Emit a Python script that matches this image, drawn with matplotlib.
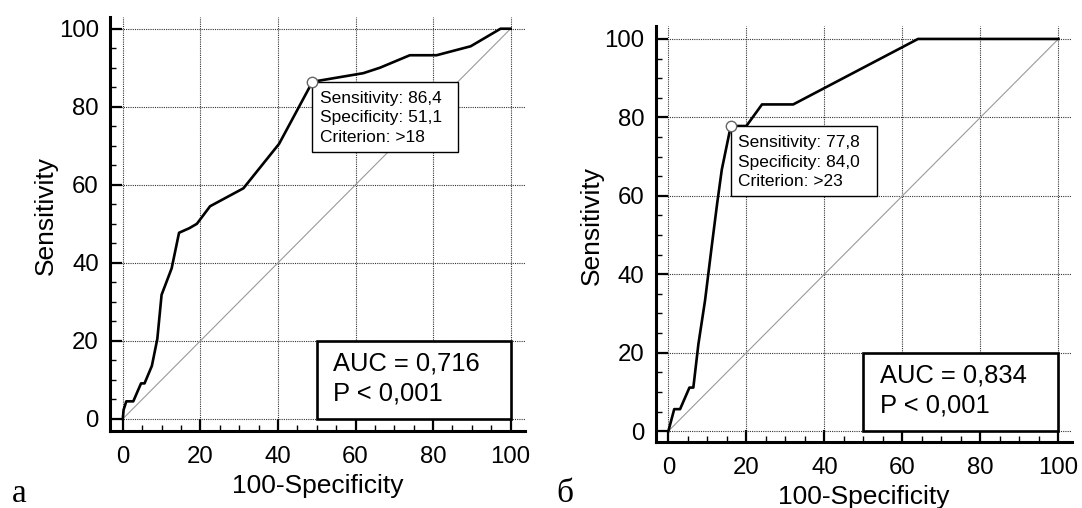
import matplotlib
matplotlib.use("Agg")
import matplotlib.pyplot as plt
from matplotlib.patches import Rectangle
from matplotlib.ticker import MultipleLocator
from matplotlib.transforms import ScaledTranslation

plt.rcParams['font.family'] = ['Liberation Sans', 'DejaVu Sans']

# ---- data ----
a_fpr = [0, 0.2, 0.9, 2.7, 4.7, 5.6, 7.5, 8.9, 10.0, 12.6, 14.5, 17.2, 19.1, 22.5,
         31.1, 40.3, 48.9, 62.0, 66.3, 74.0, 80.9, 89.7, 97.4, 100]
a_tpr = [0, 2.3, 4.5, 4.5, 9.1, 9.1, 13.6, 20.5, 31.8, 38.6, 47.7, 48.9, 50.0, 54.5,
         59.1, 70.5, 86.4, 88.6, 90.0, 93.2, 93.2, 95.5, 100, 100]
a_sens, a_spec, a_crit = 86.4, 51.1, ">18"
a_auc, a_p = "0,716", "0,001"

b_fpr = [0, 1.5, 3.0, 5.4, 6.4, 7.7, 9.4, 11.1, 12.5, 13.7, 16.0, 20.0, 24.0, 32.0, 64.0, 100]
b_tpr = [0, 5.6, 5.6, 11.1, 11.1, 22.2, 33.3, 47.0, 58.0, 66.7, 77.8, 77.8, 83.3, 83.3, 100, 100]
b_sens, b_spec, b_crit = 77.8, 84.0, ">23"
b_auc, b_p = "0,834", "0,001"

ticks = [0, 20, 40, 60, 80, 100]

W, H = 1082, 508
fig = plt.figure(figsize=(W / 100, H / 100), dpi=100)

ax1 = fig.add_axes([110 / W, 1 - 431 / H, (525 - 110) / W, (431 - 17) / H])
ax2 = fig.add_axes([655.5 / W, 1 - 441.7 / H, (1071.7 - 655.5) / W, (441.7 - 26) / H])


def draw(ax, fpr, tpr, sens, spec, crit, auc, p, xlim, ylim):
    ax.set_xlim(*xlim)
    ax.set_ylim(*ylim)
    for s in ('top', 'right'):
        ax.spines[s].set_visible(False)
    for s in ('left', 'bottom'):
        ax.spines[s].set_linewidth(2.2)
    ax.set_xticks(ticks)
    ax.set_yticks(ticks)
    ax.xaxis.set_minor_locator(MultipleLocator(5))
    ax.yaxis.set_minor_locator(MultipleLocator(5))
    ax.tick_params(which='major', direction='in', length=8.8, width=1.6,
                   labelsize=17.3, top=False, right=False)
    ax.tick_params(axis='x', which='major', pad=11)
    ax.tick_params(axis='y', which='major', pad=8)
    ax.tick_params(which='minor', direction='in', length=4.5, width=1.0,
                   top=False, right=False)
    ax.grid(True, which='major', linestyle=(0, (1, 1)), color='#333333',
            linewidth=0.8, zorder=0)
    ax.set_axisbelow(True)
    ax.set_xlabel('100-Specificity', fontsize=19, labelpad=4)
    ax.set_ylabel('Sensitivity', fontsize=19, labelpad=3)
    ax.yaxis.set_label_coords(-0.125, 0.52)

    # reference diagonal
    ax.plot([0, 100], [0, 100], color='#9a9a9a', lw=0.8, zorder=1)
    # ROC curve
    ax.plot(fpr, tpr, color='black', lw=1.9, zorder=3, solid_joinstyle='round')

    # criterion annotation box anchored at the cutoff point
    cx, cy = 100 - spec, sens
    tr = fig.dpi_scale_trans + ScaledTranslation(cx, cy, ax.transData)
    ax.add_patch(Rectangle((0, -0.70), 1.46, 0.70, transform=tr, facecolor='white',
                           edgecolor='black', lw=1.0, zorder=4, clip_on=False))
    lines = [f"Sensitivity: {sens:.1f}".replace('.', ','),
             f"Specificity: {spec:.1f}".replace('.', ','),
             f"Criterion: {crit}"]
    for i, t in enumerate(lines):
        ax.text(0.075, -0.165 - 0.195 * i, t, transform=tr, fontsize=12.5,
                va='center', ha='left', zorder=5)
    ax.plot([cx], [cy], marker='o', ms=7.5, mfc='white', mec='#666666', mew=1.0,
            zorder=6, clip_on=False)

    # AUC box
    ax.add_patch(Rectangle((50, 0), 50, 20, facecolor='white', edgecolor='black',
                           lw=1.9, zorder=4))
    ax.text(54.3, 14.3, f"AUC = {auc}", fontsize=18.4, va='center', ha='left', zorder=5)
    ax.text(54.3, 6.6, f"P < {p}", fontsize=18.4, va='center', ha='left', zorder=5)


draw(ax1, a_fpr, a_tpr, a_sens, a_spec, a_crit, a_auc, a_p, (-3.3, 103.7), (-3.1, 103))
draw(ax2, b_fpr, b_tpr, b_sens, b_spec, b_crit, b_auc, b_p, (-3.3, 103.4), (-2.7, 103.3))

fig.text(12 / W, 1 - 502 / H, "а", family=['Liberation Serif', 'DejaVu Serif'],
         fontsize=24, va='baseline', ha='left')
fig.text(556 / W, 1 - 502 / H, "б", family=['Liberation Serif', 'DejaVu Serif'],
         fontsize=24, va='baseline', ha='left')

fig.savefig('out.png', dpi=100)
